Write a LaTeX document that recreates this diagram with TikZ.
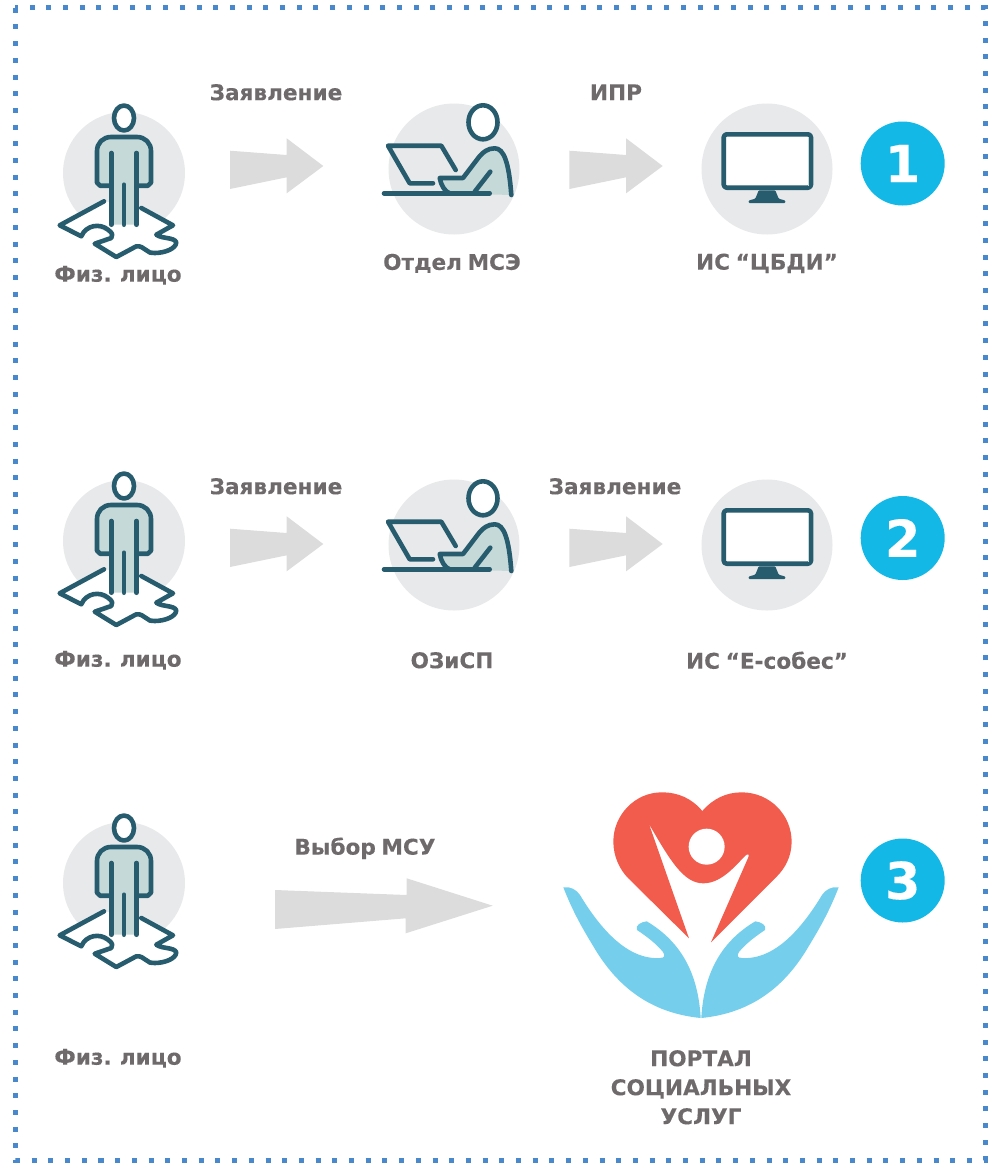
\documentclass[tikz,border=0pt]{standalone}
\usepackage{fontspec}
\setmainfont{DejaVu Sans}[WordSpace=0.75,BoldFeatures={FakeBold=0.25}]
\definecolor{ink}{HTML}{265C6E}
\definecolor{pale}{HTML}{C5D9D8}
\definecolor{disccol}{HTML}{E8E9EB}
\definecolor{arrowcol}{HTML}{DCDCDC}
\definecolor{labelcol}{HTML}{6E6A6C}
\definecolor{badgecol}{HTML}{14B8E6}
\definecolor{framecol}{HTML}{4A88CC}
\definecolor{heartcol}{HTML}{F25C4D}
\definecolor{handcol}{HTML}{75CFEC}
\tikzset{
  disc/.style={circle,fill=disccol,inner sep=0pt},
  badge/.style={circle,fill=badgecol,text=white,inner sep=0pt,minimum size=84,font=\bfseries\fontsize{51}{51}\selectfont},
  lab/.style={text=labelcol,align=center,inner sep=0pt,yshift=-0.3pt,font=\bfseries\fontsize{21.6}{29}\selectfont},
  icon/.style={draw=ink,line width=4.6,line cap=round,line join=round},
  pics/person/.style={code={
    \draw[icon,fill=white] (-20,28.3) -- (-64.3,52.3) -- (-42.7,63.3)
      .. controls (-38,52) and (-24,50) .. (-16,56.7)
      .. controls (-11,60) and (-11,63) .. (-12.7,65)
      -- (-29.3,70.7) -- (-7.7,84) -- (12.3,73.3)
      .. controls (20,72) and (24,82) .. (30.7,80)
      .. controls (40,80) and (52,76) .. (52.3,69.3)
      .. controls (50,64) and (38,66) .. (32.3,61.7)
      -- (49,52.3) -- (17.3,35);
    \fill[pale] (-12.7,51.7) -- (-12.7,12.7) -- (-27,12.7) -- (-27,-22)
      .. controls (-27,-30) and (-21,-36) .. (-13,-36) -- (13,-36)
      .. controls (21,-36) and (27,-30) .. (27,-22) -- (27,12.7)
      -- (12.5,12.7) -- (12.5,51.7) -- cycle;
    \draw[icon] (-12.7,12.7) -- (-24,12.7) -- (-27,9.7) -- (-27,-22)
      .. controls (-27,-30) and (-21,-36) .. (-13,-36) -- (13,-36)
      .. controls (21,-36) and (27,-30) .. (27,-22) -- (27,9.7)
      -- (24,12.7) -- (12.5,12.7);
    \draw[icon] (-12.7,-20) -- (-12.7,51.7);
    \draw[icon] (12.5,-20) -- (12.5,51.7);
    \draw[icon] (0,11.7) -- (0,51.7);
    \draw[icon,fill=white] (0,-55) ellipse [x radius=10,y radius=12.5];
  }},
  pics/worker/.style={code={
    \fill[pale] (-14.3,9) -- (9,9) -- (25,-12) .. controls (29,-17) and (34,-20.7) .. (40.7,-20.7)
      .. controls (50,-20.7) and (55,-6) .. (57.3,26)
      -- (-4.3,24.3) .. controls (-9.3,22.7) and (-13,16) .. (-14.3,9);
    \draw[icon] (1.7,1) -- (-12.7,-23.3) -- (-66,-23.3) -- (-44.3,14.3) -- (-21,14.3);
    \draw[icon,fill=white] (29,-46.7) ellipse [x radius=14.5,y radius=17];
    \draw[icon] (-70,24.3) -- (35.7,24.3);
    \draw[icon] (-4.3,24.3) .. controls (-9.3,22.7) and (-13,16) .. (-14.3,9) -- (9,9)
      -- (25,-12) .. controls (29,-17) and (34,-20.7) .. (40.7,-20.7)
      .. controls (50,-20.7) and (55,-6) .. (57.3,26);
    \draw[icon] (36.3,2.7) -- (20.7,22.7);
  }},
  pics/screen/.style={code={
    \draw[icon,fill=white,rounded corners=3] (-43.3,-34.7) rectangle (44,18.7);
    \fill[pale] (40.5,-32.5) rectangle (42,16.5);
    \fill[ink,rounded corners=1] (-8.3,21.3) -- (8.3,21.3) -- (11.7,29.7) -- (18.3,31.5)
      -- (18.3,34) -- (-18.3,34) -- (-18.3,31.5) -- (-11.7,29.7) -- cycle;
  }},
  pics/shortarrow/.style={code={
    \fill[arrowcol] (-93.3,-15.3) -- (-36.6,-11) -- (-36.6,-27.7) -- (0,0)
      -- (-36.6,27.3) -- (-36.6,11.3) -- (-93.3,23) -- cycle;
  }},
  pics/hand/.style={code={
    \fill[handcol] (-137.7,-130.7)
      .. controls (-131,-132) and (-124,-128) .. (-121,-123)
      .. controls (-101,-90) and (-74,-58) .. (-41,-60)
      .. controls (-36,-60) and (-36,-63) .. (-38,-66)
      .. controls (-45,-75) and (-58,-84) .. (-64,-88)
      .. controls (-66,-93) and (-60,-96) .. (-54.3,-96.7)
      .. controls (-17.7,-75) and (-2.7,-41.7) .. (-0.3,0)
      .. controls (-51,-5) and (-84.3,-31.7) .. (-107.7,-71.7)
      .. controls (-117.7,-88.3) and (-127.7,-105) .. (-137.7,-130.7) -- cycle;
  }},
}
\begin{document}
\begin{tikzpicture}[x=1pt,y=-1pt]
  \useasboundingbox (0,0) rectangle (1000,1168);
  \draw[framecol,line width=5,dash pattern=on 5pt off 11.7pt] (15,7.7) rectangle (985,1160);

  \foreach \n/\py in {a/173,b/541,c/883} {
    \node[disc,minimum size=122] (person\n) at (124,\py) {};
    \pic at (person\n) {person};
  }
  \foreach \n/\wy/\sy in {a/169/169,b/545/545} {
    \node[disc,minimum size=131] (worker\n) at (454,\wy) {};
    \pic at (worker\n) {worker};
    \node[disc,minimum size=131] (screen\n) at (767,\sy) {};
    \pic at (screen\n) {screen};
  }
  \pic at (323.3,166) {shortarrow};
  \pic at (662.7,166) {shortarrow};
  \pic at (323.3,544) {shortarrow};
  \pic at (662.7,544) {shortarrow};
  \fill[arrowcol] (275,890) -- (406.7,895) -- (406.7,878.3) -- (492.7,905.7)
    -- (405.7,933.3) -- (405.7,918.3) -- (275,929) -- cycle;

  \node[badge] (one) at (902.7,163.5) {1};
  \node[badge] (two) at (902.7,538) {2};
  \node[badge] (three) at (902.7,880.5) {3};

  \node[lab] (claimA) at (276,92) {Заявление};
  \node[lab] (iprA) at (616,92) {ИПР};
  \node[lab] (citizenA) at (118,275) {Физ. лицо};
  \node[lab] (deptA) at (452,263) {Отдел МСЭ};
  \node[lab] (sysA) at (767,263) {ИС “ЦБДИ”};
  \node[lab] (claimB) at (276,486) {Заявление};
  \node[lab] (claimC) at (615,486) {Заявление};
  \node[lab] (citizenB) at (118,660) {Физ. лицо};
  \node[lab] (deptB) at (452,660) {ОЗиСП};
  \node[lab] (sysB) at (767,660) {ИС “Е-собес”};
  \node[lab] (choice) at (365,848) {Выбор МСУ};
  \node[lab] (citizenC) at (118,1058) {Физ. лицо};
  \node[lab] (portal) at (701,1087) {ПОРТАЛ\\СОЦИАЛЬНЫХ\\УСЛУГ};

  \begin{scope}[shift={(550,780)},x=0.3333pt,y=-0.3333pt]
    \fill[heartcol] (457,93) .. controls (490,55) and (530,37) .. (575,37)
      .. controls (660,37) and (725,105) .. (725,185)
      .. controls (725,230) and (705,265) .. (680,290)
      -- (483,487) -- (595,232) .. controls (598,224) and (596,220) .. (590,224)
      .. controls (565,245) and (520,310) .. (460,310)
      .. controls (400,310) and (360,240) .. (297,132)
      -- (417,475) -- (235,295)
      .. controls (210,270) and (190,230) .. (190,185)
      .. controls (190,105) and (255,37) .. (335,37)
      .. controls (385,37) and (425,55) .. (457,93) -- cycle;
    \fill[white] (470,200) circle [radius=54];
  \end{scope}
  \coordinate (palm) at (701,1018);
  \pic at (palm) {hand};
  \pic[xscale=-1] at (palm) {hand};
\end{tikzpicture}
\end{document}
